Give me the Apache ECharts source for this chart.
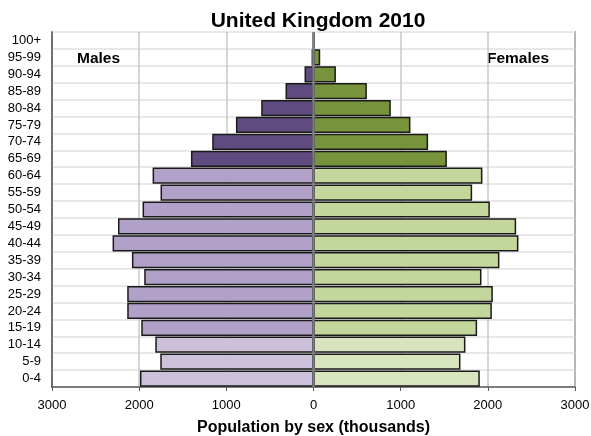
<!DOCTYPE html>
<html><head><meta charset="utf-8">
<script src="https://cdn.jsdelivr.net/npm/echarts@6/dist/echarts.min.js"></script>
<style>html,body{margin:0;padding:0;background:#fff}#c{width:591px;height:436px}</style>
</head><body><div id="c"></div>
<script>
const ageGroups = ['0-4','5-9','10-14','15-19','20-24','25-29','30-34','35-39','40-44','45-49','50-54','55-59','60-64','65-69','70-74','75-79','80-84','85-89','90-94','95-99','100+'];
const males   = [1991,1758,1815,1976,2137,2137,1942,2083,2305,2243,1961,1755,1846,1406,1162,890,600,321,103,22,2];
const females = [1908,1686,1743,1877,2046,2057,1927,2133,2351,2325,2023,1820,1938,1530,1315,1112,887,612,257,77,10];
const xTicks = [-3000,-2000,-1000,0,1000,2000,3000];

const maleColors = ['#ccc0da','#b1a0c7','#5f4b7f'];
const femaleColors = ['#d7e4bd','#c3d69b','#77933c'];
function band(i){ return i < 3 ? 0 : (i < 13 ? 1 : 2); }

const chart = echarts.init(document.getElementById('c'), null, {renderer:'canvas'});
chart.setOption({
  animation:false,
  title:{text:'United Kingdom 2010', left:313, top:6, textAlign:'center',
    textStyle:{fontFamily:'Liberation Sans, Arial', fontSize:21, fontWeight:'bold', color:'#000'}},
  grid:{left:52, right:16, top:32, bottom:49, outerBoundsMode:'none', containLabel:false,
    show:true, borderColor:'#595959', borderWidth:1.5, backgroundColor:'#fff'},
  xAxis:{type:'value', min:-3000, max:3000, interval:1000,
    name:'Population by sex (thousands)', nameLocation:'middle', nameGap:33,
    nameTextStyle:{fontFamily:'Liberation Sans, Arial', fontSize:16, fontWeight:'bold', color:'#000'},
    axisLine:{show:true, lineStyle:{color:'#595959', width:1.5}},
    axisTick:{show:true, length:4, lineStyle:{color:'#595959'}},
    axisLabel:{formatter:v=>String(Math.abs(v)), fontFamily:'Liberation Sans, Arial', fontSize:13, color:'#000', margin:12},
    splitLine:{show:true, lineStyle:{color:'#c8c8c8', width:1.5}}
  },
  yAxis:{type:'category', data:ageGroups,
    axisLine:{show:true, onZero:false, lineStyle:{color:'#595959', width:1.5}},
    axisTick:{show:false},
    axisLabel:{interval:0, fontFamily:'Liberation Sans, Arial', fontSize:13, color:'#000', margin:11},
    splitLine:{show:true, interval:0, lineStyle:{color:'#e8e8e8', width:2}}
  },
  graphic:[
    {type:'text', left:77, top:51, style:{text:'Males', font:'bold 15.5px "Liberation Sans", Arial', fill:'#000'}},
    {type:'text', left:487, top:51, style:{text:'Females', font:'bold 15.5px "Liberation Sans", Arial', fill:'#000'}}
  ],
  series:[
    {type:'bar', name:'Males', stack:'pop', barCategoryGap:'4%',
      data: males.map((v,i)=>({value:-v, itemStyle:{color:maleColors[band(i)]}})),
      itemStyle:{borderColor:'#1a1a1a', borderWidth:1.5}},
    {type:'bar', name:'Females', stack:'pop', barCategoryGap:'4%',
      data: females.map((v,i)=>({value:v, itemStyle:{color:femaleColors[band(i)]}})),
      itemStyle:{borderColor:'#1a1a1a', borderWidth:1.5},
      markLine:{silent:true, symbol:'none', label:{show:false},
        lineStyle:{color:'#7f7f7f', width:2.5, type:'solid'},
        data:[{xAxis:0}]}}
  ]
});
</script></body></html>
